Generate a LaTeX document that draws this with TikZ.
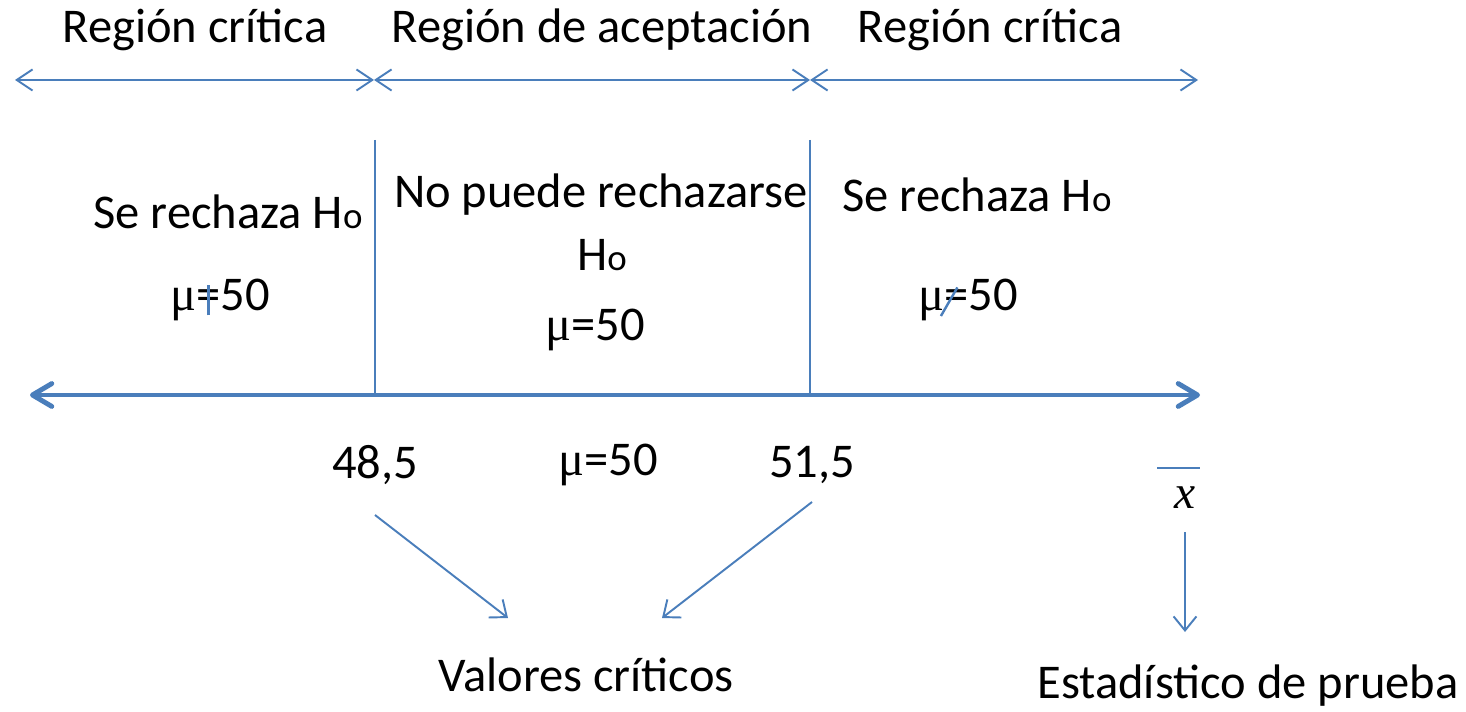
\documentclass[tikz,border=0pt]{standalone}
\usepackage{fontspec}
\usepackage{graphicx}
\setmainfont{Carlito}
\newfontfamily\mufont{Liberation Serif}
\usetikzlibrary{arrows.meta}
\definecolor{axisblue}{RGB}{74,126,187}
\newcommand{\Hsub}{H{\fontsize{21}{23}\selectfont o}}
\newcommand{\mutxt}{{\mufont μ}}
\newcommand{\neqvert}{\ooalign{=\cr\hidewidth\textcolor{axisblue}{\rule[-0.1em]{0.05em}{0.62em}}\hidewidth\cr}}
\newcommand{\neqslash}{\ooalign{=\cr\hidewidth\raisebox{-0.1em}{\textcolor{axisblue}{\rotatebox{-30}{\rule{0.05em}{0.68em}}}}\kern0.3em\hidewidth\cr}}
\tikzstyle{lbl}=[inner sep=0pt, font=\fontsize{27.6}{31}\selectfont]
\tikzstyle{region}=[axisblue, line width=1.1pt, {Straight Barb[length=9pt,width=12pt]}-{Straight Barb[length=9pt,width=12pt]}]
\tikzstyle{pointer}=[axisblue, line width=1.1pt, -{Straight Barb[length=8pt,width=13pt]}]
\tikzstyle{bound}=[axisblue, line width=1.1pt]
\begin{document}
\begin{tikzpicture}[x=0.02cm,y=-0.02cm]
  \useasboundingbox (0,0) rectangle (1466,712);
  %% Region titles
  \draw (195,30) node[lbl] (RC1) {Región crítica};
  \draw (602,30) node[lbl] (RA) {Región de aceptación};
  \draw (990,30) node[lbl] (RC2) {Región crítica};

  \coordinate (T0) at (15,80);
  \coordinate (T1) at (374,80);
  \coordinate (T2) at (810,80);
  \coordinate (T3) at (1198,80);
  \draw[region] (T0) -- (T1);
  \draw[region] (T1) -- (T2);
  \draw[region] (T2) -- (T3);

  %% Region bounds
  \coordinate (B1) at (375,140);
  \coordinate (B2) at (810,140);
  \coordinate (A1) at (375,394);
  \coordinate (A2) at (810,394);
  \draw[bound] (B1) -- (A1);
  \draw[bound] (B2) -- (A2);

  %% Decisions
  \draw (228,212) node[lbl] (D1) {Se rechaza \Hsub};
  \draw (220,300) node[lbl] (M1) {\mutxt\neqvert50};

  \draw (601,195) node[lbl] (D2) {No puede rechazarse};
  \draw (602,255) node[lbl] (H2) {\Hsub};
  \draw (595,330) node[lbl] (M2) {\mutxt=50};

  \draw (977,195) node[lbl] (D3) {Se rechaza \Hsub};
  \draw (968,300) node[lbl] (M3) {\mutxt\neqslash50};

  %% Axis
  \coordinate (L) at (30,395);
  \coordinate (R) at (1200,395);
  \draw[axisblue, line width=2.8pt, line cap=round,
    {Straight Barb[length=11pt,width=13pt,round]}-{Straight Barb[length=11pt,width=13pt,round]}] (L) -- (R);

  \draw (375,465) node[lbl] (V1) {48,5};
  \draw (608,465) node[lbl] (MU) {\mutxt=50};
  \draw (812,465) node[lbl] (V2) {51,5};

  %% Test statistic
  \draw[bound] (1157,468) -- (1200,468);
  \draw (1185,498) node[lbl, font=\fontsize{27}{30}\selectfont] (X) {\mufont\itshape x};
  \coordinate (XS) at (1185,532);
  \coordinate (XE) at (1185,632);
  \draw[pointer] (XS) -- (XE);

  %% Critical values
  \coordinate (P1) at (375,515);
  \coordinate (Q1) at (508,618);
  \coordinate (P2) at (812,502);
  \coordinate (Q2) at (662,618);
  \draw[pointer] (P1) -- (Q1);
  \draw[pointer] (P2) -- (Q2);

  \draw (586,675) node[lbl] (VC) {Valores críticos};
  \draw (1248,686) node[lbl] (EP) {Estadístico de prueba};
\end{tikzpicture}
\end{document}
